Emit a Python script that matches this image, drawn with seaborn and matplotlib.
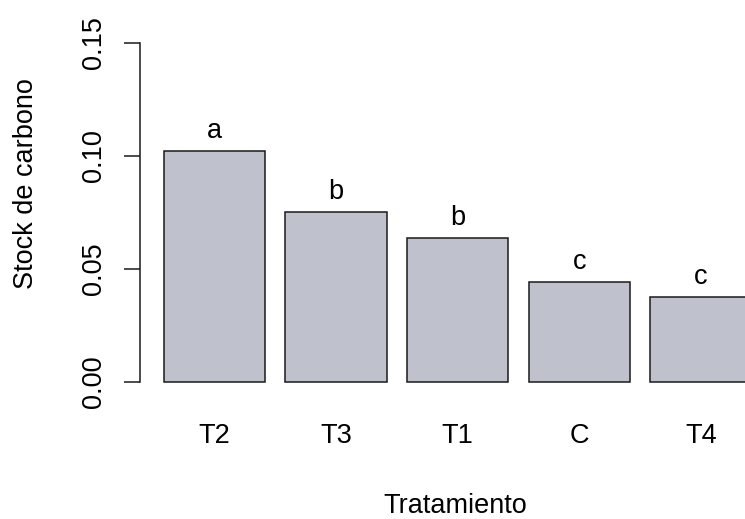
import seaborn as sns
import matplotlib.pyplot as plt

# datos
tratamientos = ["T2", "T3", "T1", "C", "T4"]
stock = [0.1022, 0.0752, 0.0637, 0.0444, 0.0377]
letras = ["a", "b", "b", "c", "c"]
y_ticks = [0.00, 0.05, 0.10, 0.15]
y_ticklabels = ["0.00", "0.05", "0.10", "0.15"]

sns.set_style("white", {"axes.labelcolor": "black", "text.color": "black",
                        "xtick.color": "black", "ytick.color": "black",
                        "ytick.left": True})
plt.rcParams['font.family'] = ['Liberation Sans', 'DejaVu Sans']
plt.rcParams['font.size'] = 19.5

W, H = 745, 519
fig = plt.figure(figsize=(W / 100, H / 100), dpi=100)
# plot region in pixels: left 140, right past the edge, y from 29.4 to 395.6
ax = fig.add_axes([140 / W, (H - 395.6) / H, 1 - 140 / W, (395.6 - 29.4) / H])

sns.barplot(x=tratamientos, y=stock, color="#BFC1CC", saturation=1,
            edgecolor="#1a1a1a", linewidth=1.1, width=0.833, ax=ax)

for i, (v, lab) in enumerate(zip(stock, letras)):
    ax.annotate(lab, (i, v), xytext=(0, 9.4), textcoords="offset points",
                ha="center", va="baseline", fontsize=19.5, color="black")

ax.set_xlim(-0.613, 4.364)
ax.set_ylim(-0.006, 0.156)
ax.set_yticks(y_ticks)
ax.set_yticklabels(y_ticklabels, rotation=90, va="center")

for s in ["top", "right", "bottom"]:
    ax.spines[s].set_visible(False)
ax.spines["left"].set_bounds(0, 0.15)
ax.spines["left"].set_color("#1a1a1a")
ax.spines["left"].set_linewidth(1.1)

ax.tick_params(axis="y", left=True, length=11.5, width=1.1, color="#1a1a1a",
               pad=12, labelsize=19.5, labelcolor="black")
ax.tick_params(axis="x", bottom=False, length=0, pad=19.7, labelsize=19.5,
               labelcolor="black")
ax.set_xlabel("")
ax.set_ylabel("")

fig.text(455 / W, (H - 513) / H, "Tratamiento", ha="center", va="baseline",
         fontsize=19.5, color="black")
fig.text(26 / W, (H - 184) / H, "Stock de carbono", rotation=90,
         ha="center", va="center", fontsize=19.5, color="black")

fig.savefig("out.png", dpi=100)
